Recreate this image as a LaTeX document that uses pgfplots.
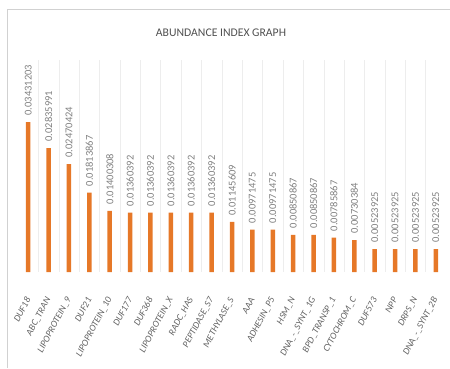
\documentclass[border=0pt]{standalone}
\usepackage{pgfplots}
\pgfplotsset{compat=1.18}
\usepackage{fontspec}
\setmainfont{Carlito}
\definecolor{xlorange}{RGB}{230,120,40}
\definecolor{txtgray}{RGB}{80,80,80}
\begin{document}
\begin{tikzpicture}
\path[use as bounding box] (0,0) rectangle (450pt,368pt);
\draw[black!18] (7.5pt,0) -- (7.5pt,358.5pt) -- (450pt,358.5pt);
\node[text=txtgray, font=\fontsize{11.7}{13}\selectfont] at (221pt,335pt) {ABUNDANCE INDEX GRAPH};
\begin{axis}[
  at={(18pt,96pt)}, anchor=south west,
  scale only axis, width=428pt, height=212pt,
  xmin=-0.5, xmax=20.5, ymin=0, ymax=0.0485,
  axis line style={draw=none},
  axis x line*=bottom,
  ytick=\empty,
  xtick={0,...,20},
  xticklabels={DUF18,ABC\_TRAN,LIPOPROTEIN\_9,DUF21,LIPOPROTEIN\_10,DUF177,DUF368,LIPOPROTEIN\_X,RADC\_HAS,PEPTIDASE\_S7,METHYLASE\_S,AAA,ADHESIN\_P5,HSM\_N,DNA\_-\_SYNT\_1G,BPD\_TRANSP\_1,CYTOCHROM\_C,DUF573,NPP,DRPS\_N,DNA\_-\_SYNT\_2B},
  xticklabel style={rotate=62, anchor=east, font=\fontsize{9.5}{10}\selectfont\itshape, text=black!62, inner sep=0pt},
  xticklabel shift=26pt,
  major tick length=0pt,
  minor xtick={0.5,1.5,...,19.5},
  minor x tick style={draw=none},
  xminorgrids, minor grid style={black!7},
  nodes near coords,
  nodes near coords style={rotate=90, anchor=west, xshift=3pt, font=\fontsize{10.5}{11}\selectfont, text=black!50, /pgf/number format/.cd, fixed, precision=8, fixed zerofill},
  /pgf/number format/assume math mode=true,
]
\addplot[ybar, bar width=4.5pt, fill=xlorange, draw=none] coordinates {
(0,0.03431203) (1,0.02835991) (2,0.02470424) (3,0.01813867) (4,0.01400308)
(5,0.01360392) (6,0.01360392) (7,0.01360392) (8,0.01360392) (9,0.01360392)
(10,0.01145609) (11,0.00971475) (12,0.00971475) (13,0.00850867) (14,0.00850867)
(15,0.00785867) (16,0.00730384) (17,0.00523925) (18,0.00523925) (19,0.00523925) (20,0.00523925)
};
\end{axis}
\end{tikzpicture}
\end{document}
